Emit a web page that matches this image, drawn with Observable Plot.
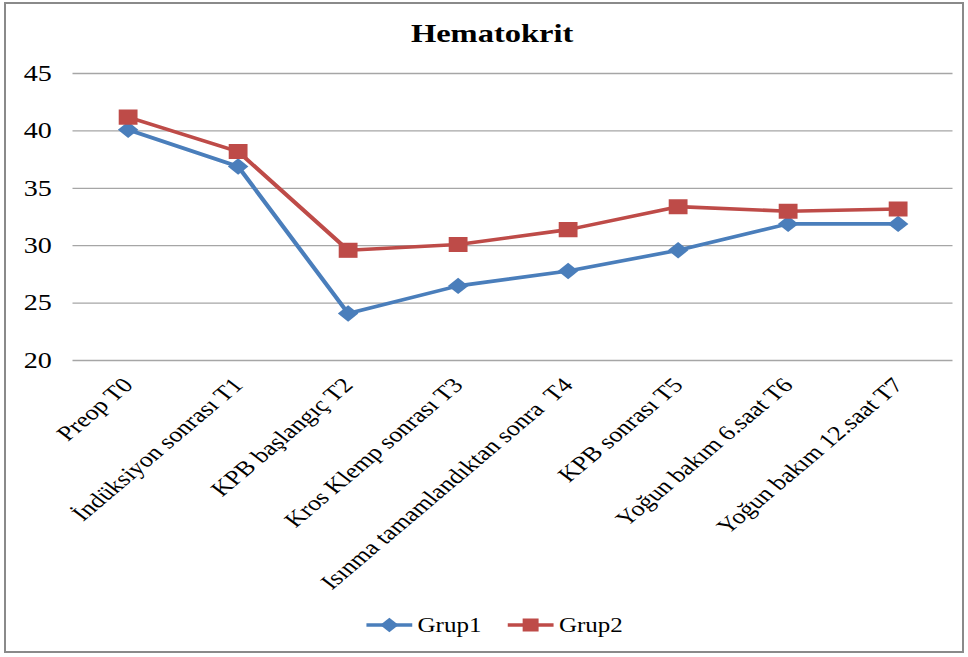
<!DOCTYPE html>
<html>
<head>
<meta charset="utf-8">
<script src="https://cdn.jsdelivr.net/npm/d3@7"></script>
<script src="https://cdn.jsdelivr.net/npm/@observablehq/plot@0.6"></script>
<style>
  body { margin: 0; background: #fff; font-family: "Liberation Serif", "Times New Roman", serif; }
  #frame { position: absolute; left: 4px; top: 2px; width: 960px; height: 651px; border: 2px solid #8a8a8a; box-sizing: border-box; pointer-events: none; }
  #wrap { position: absolute; left: 0; top: 0; width: 774.4px; transform: scaleX(1.25); transform-origin: 0 0; }
  #title { height: 55px; box-sizing: border-box; padding-top: 21px; padding-left: 13px; text-align: center; font-size: 26px; line-height: 26px; font-weight: bold; color: #000; }
  #chart svg { display: block; }
  #legend { height: 20px; display: flex; align-items: center; padding-left: 293px; font-size: 20px; line-height: 20px; color: #000; }
  .item { display: flex; align-items: center; }
  .item span { margin-left: 4px; }
</style>
</head>
<body>
<div id="wrap">
  <div id="title">Hematokrit</div>
  <div id="chart"></div>
  <div id="legend"></div>
</div>
<div id="frame"></div>
<script>
const categories = ["Preop T0", "İndüksiyon sonrası T1", "KPB başlangıç T2", "Kros Klemp sonrası T3", "Isınma tamamlandıktan sonra  T4", "KPB sonrası T5", "Yoğun bakım 6.saat T6", "Yoğun bakım 12.saat T7"];
const grup1 = [40.1, 36.9, 24.1, 26.5, 27.8, 29.6, 31.9, 31.9];
const grup2 = [41.2, 38.2, 29.6, 30.1, 31.4, 33.4, 33.0, 33.2];
const seriesNames = ["Grup1", "Grup2"];
const seriesColors = ["#4a7ebb", "#be4b48"];
const seriesSymbols = ["diamond2", "square"];
const seriesR = [7.4, 8.5];
const yTicks = [20, 25, 30, 35, 40, 45];

const seriesValues = [grup1, grup2];
const data = seriesNames.flatMap((s, si) => categories.map((c, i) => ({series: s, cat: c, value: seriesValues[si][i]})));

const chart = Plot.plot({
  width: 774,
  height: 560,
  marginLeft: 58,
  marginRight: 12,
  marginTop: 18,
  marginBottom: 255,
  style: {fontFamily: "'Liberation Serif', 'Times New Roman', serif", fontSize: "20px", color: "#000", background: "transparent"},
  x: {type: "point", domain: categories, padding: 0.5},
  y: {domain: [20, 45]},
  color: {domain: seriesNames, range: seriesColors},
  symbol: {domain: seriesNames, range: seriesSymbols},
  marks: [
    Plot.ruleY(yTicks, {stroke: "#a6a6a6", strokeWidth: 1.3, strokeOpacity: 1}),
    Plot.axisY({ticks: yTicks, tickSize: 0, tickPadding: 17, fontSize: 22.5, label: null}),
    Plot.axisX({tickSize: 0, tickPadding: 21, tickRotate: -46.5, fontSize: 21, label: null}),
    Plot.line(data, {x: "cat", y: "value", z: "series", stroke: "series", strokeWidth: 3.6}),
    Plot.dot(data.filter(d => d.series === "Grup1"), {x: "cat", y: "value", symbol: "series", fill: "series", r: seriesR[0], stroke: null}),
    Plot.dot(data.filter(d => d.series === "Grup2"), {x: "cat", y: "value", symbol: "series", fill: "series", r: seriesR[1], stroke: null})
  ]
});
document.getElementById("chart").appendChild(chart);

// legend
const legend = document.getElementById("legend");
seriesNames.forEach((name, i) => {
  const item = document.createElement("div");
  item.className = "item";
  if (i > 0) item.style.marginLeft = "21px";
  const sym = d3.symbol(i === 0 ? d3.symbolDiamond2 : d3.symbolSquare, i === 0 ? Math.PI * 6.6 * 6.6 : Math.PI * 7.2 * 7.2)();
  item.innerHTML = `<svg width="37" height="20"><line x1="0" x2="37" y1="10" y2="10" stroke="${seriesColors[i]}" stroke-width="3.5"/><path d="${sym}" transform="translate(18.5,10)" fill="${seriesColors[i]}"/></svg><span>${name}</span>`;
  legend.appendChild(item);
});
</script>
</body>
</html>
